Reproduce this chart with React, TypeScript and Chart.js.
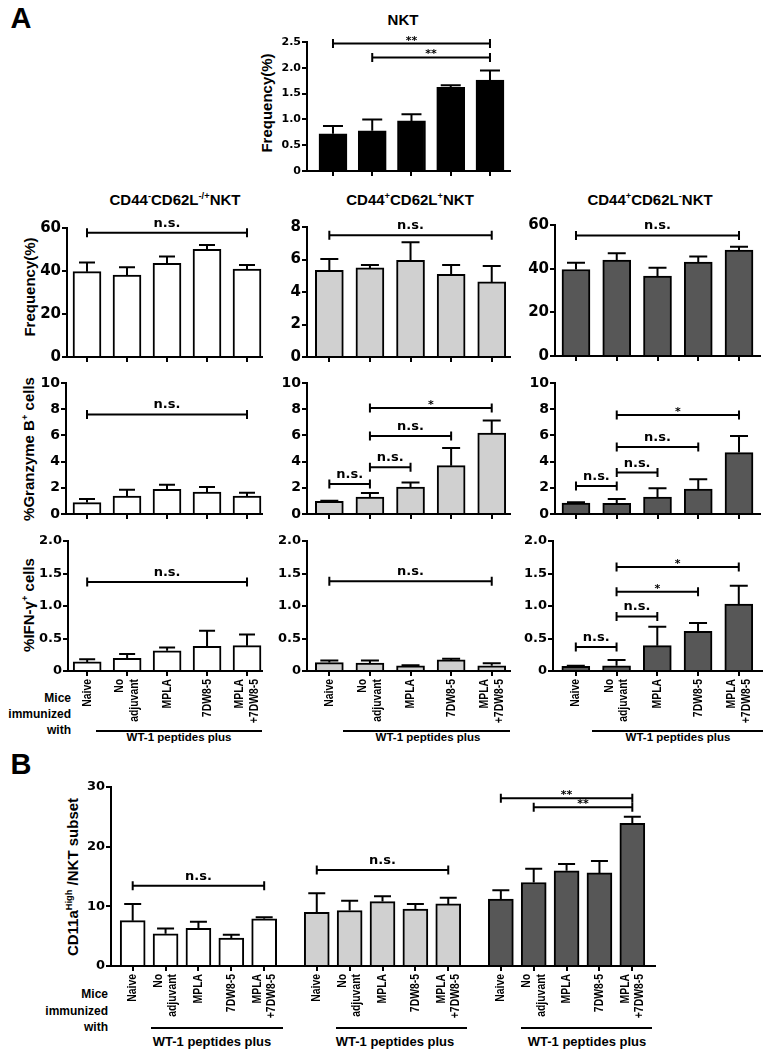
import React, { useEffect, useRef } from 'react';
import { Chart, registerables } from 'chart.js';

Chart.register(...registerables);

// ---------------- data ----------------
const categories = ['Naive', 'No\nadjuvant', 'MPLA', '7DW8-5', 'MPLA\n+7DW8-5'];

// A, top: NKT frequency
const nktMean = [0.72, 0.78, 0.97, 1.62, 1.76];
const nktSem = [0.15, 0.22, 0.13, 0.04, 0.19];
const nktSig = [
  { from: 0, to: 4, y: 2.47, label: '**' },
  { from: 1, to: 4, y: 2.2, label: '**' },
];

// A, row 1: frequency of subsets
const freqNegMean = [39.7, 38.1, 43.6, 50.1, 40.9];
const freqNegSem = [4.2, 3.6, 3.2, 2.0, 1.9];
const freqNegSig = [{ from: 0, to: 4, y: 57.8, label: 'n.s.' }];

const freqPosPosMean = [5.33, 5.48, 5.95, 5.09, 4.62];
const freqPosPosSem = [0.7, 0.18, 1.11, 0.57, 0.98];
const freqPosPosSig = [{ from: 0, to: 4, y: 7.49, label: 'n.s.' }];

const freqPosNegMean = [39.6, 43.9, 36.6, 43.0, 48.5];
const freqPosNegSem = [3.1, 3.2, 3.8, 2.6, 1.5];
const freqPosNegSig = [{ from: 0, to: 4, y: 55.2, label: 'n.s.' }];

// A, row 2: granzyme B
const gzbNegMean = [0.87, 1.37, 1.89, 1.68, 1.37];
const gzbNegSem = [0.28, 0.49, 0.35, 0.38, 0.26];
const gzbNegSig = [{ from: 0, to: 4, y: 7.6, label: 'n.s.' }];

const gzbPosPosMean = [0.97, 1.3, 2.06, 3.69, 6.18];
const gzbPosPosSem = [0.05, 0.3, 0.34, 1.35, 0.95];
const gzbPosPosSig = [
  { from: 0, to: 1, y: 2.29, label: 'n.s.' },
  { from: 1, to: 2, y: 3.56, label: 'n.s.' },
  { from: 1, to: 3, y: 5.95, label: 'n.s.' },
  { from: 1, to: 4, y: 8.09, label: '*' },
];

const gzbPosNegMean = [0.84, 0.82, 1.3, 1.91, 4.69];
const gzbPosNegSem = [0.06, 0.33, 0.66, 0.74, 1.26];
const gzbPosNegSig = [
  { from: 0, to: 1, y: 2.14, label: 'n.s.' },
  { from: 1, to: 2, y: 3.16, label: 'n.s.' },
  { from: 1, to: 3, y: 5.11, label: 'n.s.' },
  { from: 1, to: 4, y: 7.56, label: '*' },
];

// A, row 3: IFN-gamma
const ifnNegMean = [0.14, 0.195, 0.31, 0.38, 0.39];
const ifnNegSem = [0.04, 0.065, 0.05, 0.24, 0.17];
const ifnNegSig = [{ from: 0, to: 4, y: 1.37, label: 'n.s.' }];

const ifnPosPosMean = [0.13, 0.12, 0.08, 0.17, 0.08];
const ifnPosPosSem = [0.03, 0.04, 0.01, 0.02, 0.04];
const ifnPosPosSig = [{ from: 0, to: 4, y: 1.38, label: 'n.s.' }];

const ifnPosNegMean = [0.07, 0.08, 0.39, 0.61, 1.03];
const ifnPosNegSem = [0.01, 0.09, 0.29, 0.13, 0.28];
const ifnPosNegSig = [
  { from: 0, to: 1, y: 0.37, label: 'n.s.' },
  { from: 1, to: 2, y: 0.84, label: 'n.s.' },
  { from: 1, to: 3, y: 1.22, label: '*' },
  { from: 1, to: 4, y: 1.6, label: '*' },
];

// B: CD11a high
const cd11NegMean = [7.6, 5.4, 6.3, 4.67, 7.9];
const cd11NegSem = [2.8, 0.9, 1.1, 0.56, 0.27];
const cd11PosPosMean = [9.0, 9.3, 10.8, 9.56, 10.4];
const cd11PosPosSem = [3.2, 1.65, 0.87, 0.84, 1.05];
const cd11PosNegMean = [11.2, 14.0, 15.95, 15.6, 23.9];
const cd11PosNegSem = [1.5, 2.3, 1.15, 2.0, 1.1];
const cd11Sig = [
  { from: 0, to: 4, y: 13.45, label: 'n.s.' },
  { from: 5, to: 9, y: 16.1, label: 'n.s.' },
  { from: 10, to: 14, y: 28.1, label: '**' },
  { from: 11, to: 14, y: 26.6, label: '**' },
];

// ---------------- styles ----------------
const WHITE = '#ffffff';
const LIGHT = '#d0d0d0';
const DARK = '#575757';
const BLACK = '#000000';
const FONT = '"Liberation Sans", Arial, sans-serif';

const fivePos = [0, 1, 2, 3, 4];
const groupSpacing = 5.6;
const bPositions = [0, 1, 2].flatMap((g) => fivePos.map((i) => g * groupSpacing + i));

type Bracket = { from: number; to: number; y: number; label: string };
type Spec = {
  key: string;
  area: [number, number, number, number];
  yMax: number;
  yStep: number;
  yFont: number;
  decimals: boolean;
  xMin: number;
  xMax: number;
  positions: number[];
  labels: string[] | null;
  mean: number[];
  sem: number[];
  colors: string[];
  barWidth: number;
  cap: number;
  brackets: Bracket[];
};

const fill = (c: string, n = 5) => Array.from({ length: n }, () => c);

const specs: Spec[] = [
  { key: 'nkt', area: [307, 42, 510, 171], yMax: 2.5, yStep: 0.5, yFont: 11, decimals: true, xMin: -0.662, xMax: 4.51, positions: fivePos, labels: null, mean: nktMean, sem: nktSem, colors: fill(BLACK), barWidth: 28, cap: 20, brackets: nktSig },
  { key: 'f1', area: [67, 228, 262, 357], yMax: 60, yStep: 20, yFont: 15, decimals: false, xMin: -0.5, xMax: 4.375, positions: fivePos, labels: null, mean: freqNegMean, sem: freqNegSem, colors: fill(WHITE), barWidth: 28, cap: 16, brackets: freqNegSig },
  { key: 'f2', area: [307, 226.7, 510, 356.7], yMax: 8, yStep: 2, yFont: 15, decimals: false, xMin: -0.55, xMax: 4.45, positions: fivePos, labels: null, mean: freqPosPosMean, sem: freqPosPosSem, colors: fill(LIGHT), barWidth: 28, cap: 18, brackets: freqPosPosSig },
  { key: 'f3', area: [555, 225, 760, 355.7], yMax: 60, yStep: 20, yFont: 15, decimals: false, xMin: -0.515, xMax: 4.515, positions: fivePos, labels: null, mean: freqPosNegMean, sem: freqPosNegSem, colors: fill(DARK), barWidth: 28, cap: 18, brackets: freqPosNegSig },
  { key: 'g1', area: [66, 382.7, 262, 513.7], yMax: 10, yStep: 2, yFont: 14, decimals: false, xMin: -0.525, xMax: 4.375, positions: fivePos, labels: null, mean: gzbNegMean, sem: gzbNegSem, colors: fill(WHITE), barWidth: 28, cap: 16, brackets: gzbNegSig },
  { key: 'g2', area: [307, 382.7, 510, 513.7], yMax: 10, yStep: 2, yFont: 14, decimals: false, xMin: -0.55, xMax: 4.45, positions: fivePos, labels: null, mean: gzbPosPosMean, sem: gzbPosPosSem, colors: fill(LIGHT), barWidth: 28, cap: 18, brackets: gzbPosPosSig },
  { key: 'g3', area: [555, 382.7, 760, 513.7], yMax: 10, yStep: 2, yFont: 14, decimals: false, xMin: -0.515, xMax: 4.515, positions: fivePos, labels: null, mean: gzbPosNegMean, sem: gzbPosNegSem, colors: fill(DARK), barWidth: 28, cap: 18, brackets: gzbPosNegSig },
  { key: 'i1', area: [67.7, 540.7, 262, 671], yMax: 2, yStep: 0.5, yFont: 13, decimals: true, xMin: -0.48, xMax: 4.375, positions: fivePos, labels: categories, mean: ifnNegMean, sem: ifnNegSem, colors: fill(WHITE), barWidth: 28, cap: 16, brackets: ifnNegSig },
  { key: 'i2', area: [307, 540.7, 510, 671], yMax: 2, yStep: 0.5, yFont: 13, decimals: true, xMin: -0.55, xMax: 4.45, positions: fivePos, labels: categories, mean: ifnPosPosMean, sem: ifnPosPosSem, colors: fill(LIGHT), barWidth: 28, cap: 18, brackets: ifnPosPosSig },
  { key: 'i3', area: [553, 540.7, 762, 671], yMax: 2, yStep: 0.5, yFont: 13, decimals: true, xMin: -0.56, xMax: 4.57, positions: fivePos, labels: categories, mean: ifnPosNegMean, sem: ifnPosNegSem, colors: fill(DARK), barWidth: 28, cap: 18, brackets: ifnPosNegSig },
  { key: 'b', area: [111, 786.7, 655, 965.7], yMax: 30, yStep: 10, yFont: 13, decimals: false, xMin: -0.66, xMax: 15.89, positions: bPositions, labels: [...categories, ...categories, ...categories], mean: [...cd11NegMean, ...cd11PosPosMean, ...cd11PosNegMean], sem: [...cd11NegSem, ...cd11PosPosSem, ...cd11PosNegSem], colors: [...fill(WHITE), ...fill(LIGHT), ...fill(DARK)], barWidth: 25, cap: 17, brackets: cd11Sig },
];

function makeAnnot(spec: Spec) {
  return {
    id: 'annot_' + spec.key,
    afterDatasetsDraw(chart: any) {
      const { ctx, chartArea } = chart;
      const xs = chart.scales.x;
      const ys = chart.scales.y;
      ctx.save();
      ctx.strokeStyle = '#000';
      ctx.fillStyle = '#000';
      ctx.lineWidth = 2;
      spec.mean.forEach((m, i) => {
        const x = xs.getPixelForValue(spec.positions[i]);
        const y0 = ys.getPixelForValue(m);
        const y1 = ys.getPixelForValue(m + spec.sem[i]);
        ctx.beginPath();
        ctx.moveTo(x, y0);
        ctx.lineTo(x, y1);
        ctx.moveTo(x - spec.cap / 2, y1);
        ctx.lineTo(x + spec.cap / 2, y1);
        ctx.stroke();
      });
      spec.brackets.forEach((b) => {
        const x1 = xs.getPixelForValue(spec.positions[b.from]);
        const x2 = xs.getPixelForValue(spec.positions[b.to]);
        const y = ys.getPixelForValue(b.y);
        ctx.beginPath();
        ctx.moveTo(x1, y);
        ctx.lineTo(x2, y);
        ctx.moveTo(x1, y - 4.5);
        ctx.lineTo(x1, y + 4.5);
        ctx.moveTo(x2, y - 4.5);
        ctx.lineTo(x2, y + 4.5);
        ctx.stroke();
        const star = b.label.includes('*');
        ctx.font = `bold ${star ? 11 : 13}px "DejaVu Sans"`;
        ctx.textAlign = 'center';
        ctx.textBaseline = 'alphabetic';
        ctx.fillText(b.label, (x1 + x2) / 2, y - (star ? 0 : 6));
      });
      if (spec.labels) {
        ctx.font = `bold 13px ${FONT}`;
        spec.labels.forEach((lab, i) => {
          const x = xs.getPixelForValue(spec.positions[i]);
          const lines = lab.split('\n');
          ctx.save();
          ctx.translate(x, chartArea.bottom + 8);
          ctx.rotate(-Math.PI / 2);
          ctx.scale(0.8, 1);
          ctx.textAlign = 'right';
          ctx.textBaseline = 'middle';
          lines.forEach((ln, j) => ctx.fillText(ln, 0, (j - (lines.length - 1) / 2) * 14.5));
          ctx.restore();
        });
      }
      ctx.restore();
    },
  };
}

const PAD_L = 40;
const PAD_T = 24;
const PAD_R = 12;

function ChartBox({ spec }: { spec: Spec }) {
  const ref = useRef<HTMLCanvasElement>(null);
  const xH = spec.labels ? 72 : 12;
  const [aL, aT, aR, aB] = spec.area;
  const left = aL - PAD_L;
  const top = aT - PAD_T;
  const width = Math.round(aR - aL + PAD_L + PAD_R);
  const height = Math.round(aB - aT + PAD_T + xH);

  useEffect(() => {
    const chart = new Chart(ref.current as HTMLCanvasElement, {
      type: 'bar',
      data: {
        datasets: [
          {
            data: spec.positions.map((x, i) => ({ x, y: spec.mean[i] })),
            backgroundColor: spec.colors,
            borderColor: '#000',
            borderWidth: 2,
            barThickness: spec.barWidth,
          } as any,
        ],
      },
      options: {
        animation: false,
        responsive: false,
        maintainAspectRatio: false,
        events: [],
        layout: { padding: { top: PAD_T, right: PAD_R, left: 0, bottom: 0 } },
        plugins: { legend: { display: false }, tooltip: { enabled: false } },
        scales: {
          x: {
            type: 'linear',
            min: spec.xMin,
            max: spec.xMax,
            offset: false,
            afterBuildTicks: (s: any) => {
              s.ticks = spec.positions.map((v) => ({ value: v }));
            },
            afterFit: (s: any) => {
              s.height = xH;
            },
            ticks: { display: false },
            grid: { display: true, offset: false, drawOnChartArea: false, drawTicks: true, tickLength: 5, color: '#000', lineWidth: 2 },
            border: { display: true, color: '#000', width: 2 },
          },
          y: {
            type: 'linear',
            min: 0,
            max: spec.yMax,
            afterFit: (s: any) => {
              s.width = PAD_L;
            },
            ticks: {
              stepSize: spec.yStep,
              color: '#000',
              padding: 1,
              font: { family: '"DejaVu Sans"', weight: 'bold', size: spec.yFont },
              callback: (v: any) => (Number(v) === 0 ? '0' : spec.decimals ? Number(v).toFixed(1) : String(v)),
            },
            grid: { drawOnChartArea: false, drawTicks: true, tickLength: 5, color: '#000', lineWidth: 2 },
            border: { display: true, color: '#000', width: 2 },
          },
        },
      } as any,
      plugins: [makeAnnot(spec)],
    });
    return () => chart.destroy();
  }, []);

  return <canvas ref={ref} width={width} height={height} style={{ position: 'absolute', left, top, width, height }} />;
}

function Txt({ x, y, size, anchor = 'center', rotate = false, children }: any) {
  const tx = anchor === 'center' ? '-50%' : anchor === 'right' ? '-100%' : '0';
  return (
    <div
      style={{
        position: 'absolute',
        left: x,
        top: y,
        transform: rotate ? 'translate(-50%,-50%) rotate(-90deg)' : `translate(${tx},-50%)`,
        font: `bold ${size}px ${FONT}`,
        lineHeight: 1,
        whiteSpace: 'nowrap',
        color: '#000',
      }}
    >
      {children}
    </div>
  );
}

const Sup = ({ children }: any) => <sup style={{ fontSize: '0.62em', lineHeight: 0, verticalAlign: '0.55em' }}>{children}</sup>;

function HLine({ x1, x2, y }: { x1: number; x2: number; y: number }) {
  return <div style={{ position: 'absolute', left: x1, top: y - 1, width: x2 - x1, height: 2, background: '#000' }} />;
}

function Mice({ right, top, lh }: { right: number; top: number; lh: number }) {
  return (
    <div
      style={{
        position: 'absolute',
        left: right - 100,
        width: 100,
        top,
        textAlign: 'right',
        font: `bold 12px ${FONT}`,
        lineHeight: `${lh}px`,
        whiteSpace: 'pre',
        color: '#000',
      }}
    >
      {'Mice\nimmunized\nwith'}
    </div>
  );
}

export default function App() {
  return (
    <div style={{ position: 'absolute', left: 0, top: 0, width: 765, height: 1050, background: '#fff', overflow: 'hidden' }}>
      <Txt x={21} y={18} size={29}>A</Txt>
      <Txt x={21} y={764} size={29}>B</Txt>

      <Txt x={403} y={19} size={15}>NKT</Txt>
      <Txt x={175} y={199} size={15}>CD44<Sup>-</Sup>CD62L<Sup>-/+</Sup>NKT</Txt>
      <Txt x={410} y={199} size={15}>CD44<Sup>+</Sup>CD62L<Sup>+</Sup>NKT</Txt>
      <Txt x={650} y={199} size={15}>CD44<Sup>+</Sup>CD62L<Sup>-</Sup>NKT</Txt>

      <Txt x={266} y={103} size={15} rotate>Frequency(%)</Txt>
      <Txt x={29} y={287} size={15} rotate>Frequency(%)</Txt>
      <Txt x={28} y={449} size={15} rotate>%Granzyme B<Sup>+</Sup> cells</Txt>
      <Txt x={28} y={605} size={15} rotate>%IFN-γ<Sup>+</Sup> cells</Txt>
      <Txt x={72} y={877} size={15} rotate>CD11a<Sup>High</Sup> /NKT subset</Txt>

      <Mice right={71} top={690} lh={16} />
      <Mice right={108} top={986} lh={16.6} />

      <HLine x1={96} x2={262} y={731} />
      <HLine x1={343} x2={510} y={731} />
      <HLine x1={592} x2={763} y={731} />
      <Txt x={179} y={738} size={11.5}>WT-1 peptides plus</Txt>
      <Txt x={428} y={738} size={11.5}>WT-1 peptides plus</Txt>
      <Txt x={678} y={738} size={11.5}>WT-1 peptides plus</Txt>

      <HLine x1={151} x2={283} y={1028} />
      <HLine x1={336} x2={467} y={1028} />
      <HLine x1={521} x2={652} y={1028} />
      <Txt x={212} y={1041} size={13}>WT-1 peptides plus</Txt>
      <Txt x={395} y={1041} size={13}>WT-1 peptides plus</Txt>
      <Txt x={587} y={1041} size={13}>WT-1 peptides plus</Txt>

      {specs.map((s) => (
        <ChartBox key={s.key} spec={s} />
      ))}
    </div>
  );
}
